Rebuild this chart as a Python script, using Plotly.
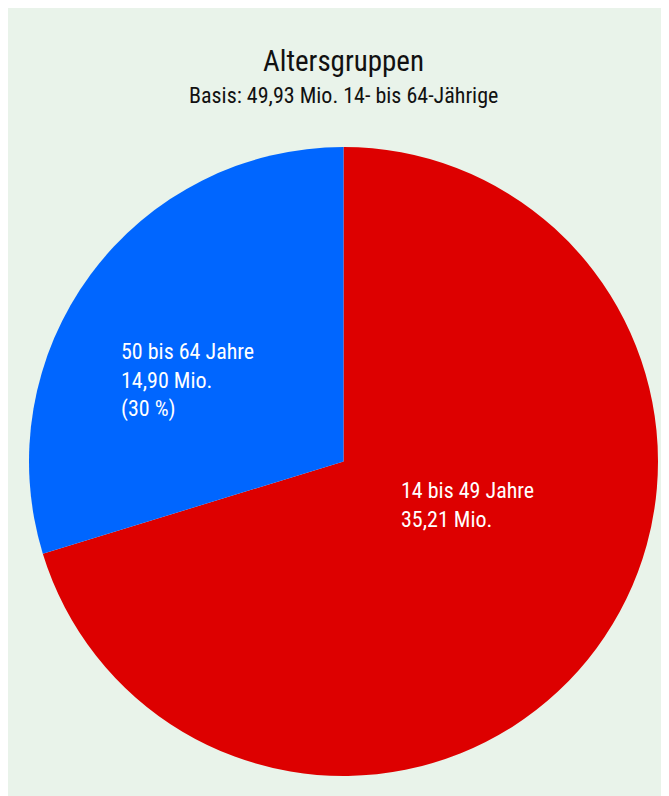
import plotly.graph_objects as go

labels = ["14 bis 49 Jahre", "50 bis 64 Jahre"]
values = [35.21, 14.90]
colors = ["#dd0000", "#0066ff"]
label_texts = ["14 bis 49 Jahre<br>35,21 Mio.", "50 bis 64 Jahre<br>14,90 Mio.<br>(30 %)"]
title = "Altersgruppen"
subtitle = "Basis: 49,93 Mio. 14- bis 64-Jährige"

# page body has an 8px margin; figure extends past the 669x796 window edges
OFF = 8
W, H = 669, 796
ML, MR, MT, MB = 21, 19, 139, 28
PW, PH = W - ML - MR, H - MT - MB
FONT = "Roboto Condensed, Liberation Sans Narrow, Arial Narrow, sans-serif"

def px(x):
    return (x - OFF - ML) / PW

def py(y):
    return (H - MB - (y - OFF)) / PH

fig = go.Figure(go.Pie(
    labels=labels, values=values, sort=False, direction="clockwise", rotation=0,
    marker=dict(colors=colors, line=dict(width=0)),
    textinfo="none", hoverinfo="label+value", showlegend=False,
))

annotations = [
    dict(text=title, x=px(344), y=py(61), xref="paper", yref="paper", showarrow=False,
         xanchor="center", yanchor="middle", font=dict(size=29, color="#111111", family=FONT)),
    dict(text=subtitle, x=px(344), y=py(96), xref="paper", yref="paper", showarrow=False,
         xanchor="center", yanchor="middle", font=dict(size=22, color="#111111", family=FONT)),
    dict(text=label_texts[1], x=px(119), y=py(380), xref="paper", yref="paper", showarrow=False,
         xanchor="left", yanchor="middle", align="left", font=dict(size=22, color="white", family=FONT)),
    dict(text=label_texts[0], x=px(399), y=py(505), xref="paper", yref="paper", showarrow=False,
         xanchor="left", yanchor="middle", align="left", font=dict(size=22, color="white", family=FONT)),
]

fig.update_layout(
    width=W, height=H, autosize=False,
    margin=dict(l=ML, r=MR, t=MT, b=MB),
    paper_bgcolor="#e9f3ea", plot_bgcolor="#e9f3ea",
    annotations=annotations,
)

fig.write_html("out.html")
